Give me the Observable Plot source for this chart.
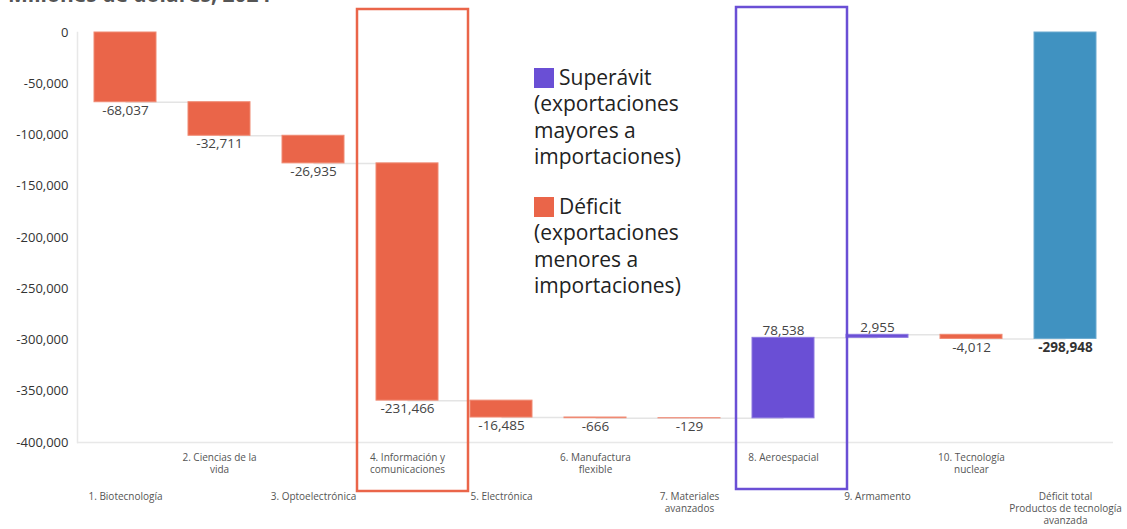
<!DOCTYPE html>
<html>
<head>
<meta charset="utf-8">
<script src="https://cdn.jsdelivr.net/npm/d3@7"></script>
<script src="https://cdn.jsdelivr.net/npm/@observablehq/plot@0.6"></script>
<style>
  html, body { margin: 0; padding: 0; background: #fff; overflow: hidden; }
  body { font-family: "Open Sans", Lato, sans-serif; width: 1127px; height: 529px; position: relative; }
  #title { position: absolute; left: 8px; top: -20px; font-size: 21px; font-weight: 700; color: #555; white-space: nowrap; }
  #chart { position: absolute; left: 0; top: 0; }
  #legend { position: absolute; left: 534px; top: 64px; font-size: 21px; line-height: 26.3px; color: #222; }
  #legend .sw { display: inline-block; width: 20px; height: 20px; vertical-align: -3px; margin-right: 5px; }
  #legend .block + .block { margin-top: 24px; }
</style>
</head>
<body>
<div id="title">Millones de dólares, 2024</div>
<div id="chart"></div>
<div id="legend"></div>
<script>
// ---- data ----
const categories = [
  "1. Biotecnología", "2. Ciencias de la\nvida", "3. Optoelectrónica",
  "4. Información y\ncomunicaciones", "5. Electrónica", "6. Manufactura\nflexible",
  "7. Materiales\navanzados", "8. Aeroespacial", "9. Armamento",
  "10. Tecnología\nnuclear", "Déficit total\nProductos de tecnología\navanzada"
];
const values = [-68037, -32711, -26935, -231466, -16485, -666, -129, 78538, 2955, -4012, -298948];
const isTotal = [false, false, false, false, false, false, false, false, false, false, true];
const yTicks = [0, -50000, -100000, -150000, -200000, -250000, -300000, -350000, -400000];
const yDomain = [-400000, 0];
const highlightDeficit = ["4. Información y\ncomunicaciones"];
const highlightSurplus = ["8. Aeroespacial"];
const legendItems = [
  {label: "Superávit", text: ["(exportaciones", "mayores a", "importaciones)"], kind: "surplus"},
  {label: "Déficit", text: ["(exportaciones", "menores a", "importaciones)"], kind: "deficit"}
];

const colors = {deficit: "#ea6549", surplus: "#6a4fd5", total: "#4092c1"};
const edgeColors = {deficit: "#f08a73", surplus: "#8c78e0", total: "#6aaad0"};

// ---- waterfall table ----
let run = 0;
const rows = categories.map((c, i) => {
  let start, end;
  if (isTotal[i]) { start = 0; end = values[i]; }
  else { start = run; end = run + values[i]; run = end; }
  const kind = isTotal[i] ? "total" : (values[i] >= 0 ? "surplus" : "deficit");
  return {cat: c, i, value: values[i], start, end, kind, fill: colors[kind], edge: edgeColors[kind]};
});
const links = rows.slice(0, -1).map((r, k) => ({from: r.cat, to: rows[k + 1].cat, level: r.end}));
const fmt = d3.formatLocale({decimal: ".", thousands: ",", grouping: [3], currency: ["$", ""], minus: "-"}).format(",");

const chart = Plot.plot({
  width: 1127,
  height: 529,
  marginLeft: 77,
  marginRight: 14,
  marginTop: 32,
  marginBottom: 87,
  style: {fontFamily: "'Open Sans', Lato, sans-serif", background: "transparent"},
  x: {domain: categories, paddingInner: 0.34, paddingOuter: 0.17, axis: null},
  y: {domain: yDomain, axis: null},
  marks: [
    Plot.ruleY([yDomain[0]], {stroke: "#e8e8e8", strokeWidth: 1.5}),
    Plot.frame({anchor: "left", stroke: "#e8e8e8", strokeWidth: 1.5}),
    Plot.axisY({ticks: yTicks, tickSize: 0, tickPadding: 9, tickFormat: fmt, label: null, fontSize: 13, color: "#333"}),
    Plot.link(links, {x1: "from", x2: "to", y1: "level", y2: "level", stroke: "#e4e4e4", strokeWidth: 1.5}),
    Plot.barY(rows, {x: "cat", y1: "start", y2: "end", fill: d => d.fill, stroke: d => d.edge, strokeWidth: 1}),
    Plot.text(rows.filter(d => d.value < 0 && d.kind !== "total"), {
      x: "cat", y: "end", text: d => fmt(d.value), lineAnchor: "top", dy: 3,
      fontSize: 13.5, fill: "#444"
    }),
    Plot.text(rows.filter(d => d.kind === "total"), {
      x: "cat", y: "end", text: d => fmt(d.value), lineAnchor: "top", dy: 3,
      fontSize: 13.5, fill: "#333", fontWeight: 700
    }),
    Plot.text(rows.filter(d => d.value >= 0), {
      x: "cat", y: "end", text: d => fmt(d.value), lineAnchor: "bottom", dy: -3,
      fontSize: 13.5, fill: "#444"
    }),
    Plot.text(rows.filter(d => d.i % 2 === 1), {
      x: "cat", frameAnchor: "bottom", text: "cat", lineAnchor: "top", dy: 10,
      fontSize: 10, fill: "#555", lineHeight: 1.2
    }),
    Plot.text(rows.filter(d => d.i % 2 === 0), {
      x: "cat", frameAnchor: "bottom", text: "cat", lineAnchor: "top", dy: 49,
      fontSize: 10, fill: "#555", lineHeight: 1.2
    }),
    Plot.barY(highlightDeficit, {x: d => d, y1: () => yDomain[1], y2: () => yDomain[0],
      fill: "none", stroke: colors.deficit, strokeWidth: 2.5,
      insetLeft: -19, insetRight: -30, insetTop: -23, insetBottom: -49}),
    Plot.barY(highlightSurplus, {x: d => d, y1: () => yDomain[1], y2: () => yDomain[0],
      fill: "none", stroke: colors.surplus, strokeWidth: 2.5,
      insetLeft: -16, insetRight: -33, insetTop: -25, insetBottom: -47})
  ]
});
document.getElementById("chart").appendChild(chart);

const legend = document.getElementById("legend");
legendItems.forEach(item => {
  const b = document.createElement("div");
  b.className = "block";
  const first = document.createElement("div");
  const sw = document.createElement("span");
  sw.className = "sw";
  sw.style.background = colors[item.kind];
  first.appendChild(sw);
  first.appendChild(document.createTextNode(item.label));
  b.appendChild(first);
  item.text.forEach(t => { const l = document.createElement("div"); l.textContent = t; b.appendChild(l); });
  legend.appendChild(b);
});
</script>
</body>
</html>
